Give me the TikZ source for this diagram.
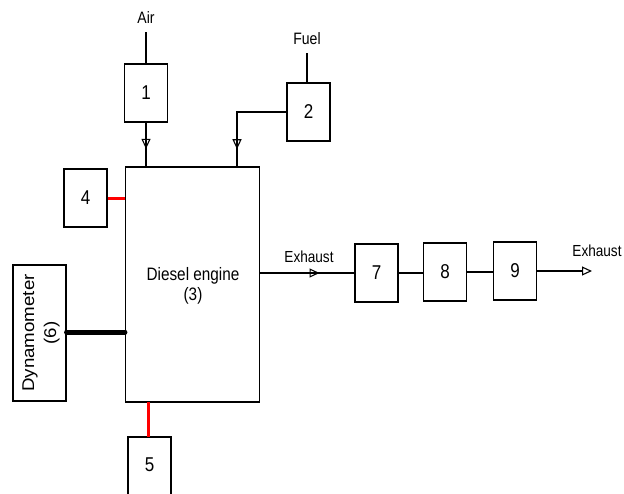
\documentclass[tikz,border=0pt]{standalone}
\usepackage{fontspec}
\setmainfont[FakeStretch=0.85]{Liberation Sans}
\newfontfamily\dynfont[FakeStretch=1.1]{Liberation Sans}
\usetikzlibrary{arrows.meta,decorations.markings}
\tikzset{
  box/.style={draw, line width=1.1pt, minimum width=43pt, minimum height=58pt, inner sep=0pt, font=\fontsize{20}{22}\selectfont},
  lbl/.style={font=\fontsize{16.5}{18}\selectfont, inner sep=0pt},
  exlbl/.style={font=\fontsize{16}{18}\selectfont, inner sep=0pt},
  conn/.style={line width=1.1pt},
  openarrow/.style={-{Triangle[open, length=10pt, width=9pt, line width=1.1pt]}},
  midarrow/.style={postaction={decorate}, decoration={markings, mark=at position #1 with {\arrow{Triangle[open, length=10pt, width=9pt, line width=1.1pt]}}}},
  redlink/.style={draw=red, line width=3pt},
  shaft/.style={draw=black, line width=5pt, line cap=round}
}
\begin{document}
\begin{tikzpicture}[x=1pt,y=-1pt]
\useasboundingbox (0,0) rectangle (624,493);
% boxes
\node[box] (b1) at (146,93) {1};
\node[box] (b2) at (308.5,112) {2};
\node[box, minimum width=134pt, minimum height=235pt] (eng) at (192.5,284.5) {};
\node[box] (b4) at (85.5,198) {4};
\node[box, minimum width=53pt, minimum height=136pt] (b6) at (39.5,333) {};
\node[rotate=90, font=\dynfont\fontsize{17}{22}\selectfont, align=center] (b6t) at (41,333) {Dynamometer\\(6)};
\node[box, minimum height=70pt] (b5) at (149.5,472) {};
\node[font=\fontsize{20}{22}\selectfont] (b5t) at (149.5,465) {5};
\node[box] (b7) at (376.5,273) {7};
\node[box] (b8) at (445,272) {8};
\node[box] (b9) at (515,271) {9};
% engine text
\node[font=\fontsize{18}{20}\selectfont, align=center] (engt) at (193,286) {Diesel engine\\(3)};
% labels
\node[lbl] (air) at (146,18) {Air};
\node[lbl] (fuel) at (307,39) {Fuel};
\node[exlbl] (ex1) at (309,257) {Exhaust};
\node[exlbl] (ex2) at (597,251) {Exhaust};
\coordinate (airin) at (146,32);
\coordinate (fuelin) at (307,53);
\coordinate (exout) at (592,271);
% connectors
\draw[conn] (airin) -- (b1.north);
\draw[conn] (fuelin) -- (fuelin |- b2.north);
\draw[conn, midarrow=0.6] (b1.south) -- (b1.south |- eng.north);
\draw[conn, midarrow=0.83] (b2.west) -| (237,167);
\draw[conn, midarrow=0.63] (eng.east |- b7.west) -- (b7.west);
\draw[conn] (b7.east) -- (b8.west |- b7.east);
\draw[conn] (b8.east) -- (b9.west |- b8.east);
\draw[conn, openarrow] (b9.east) -- (exout);
\draw[redlink] (b4.east) -- (eng.west |- b4.east);
\draw[redlink] (148,402) -- (148,437);
\draw[shaft] (b6.east |- 0,332) -- (eng.west |- 0,332);
\end{tikzpicture}
\end{document}
